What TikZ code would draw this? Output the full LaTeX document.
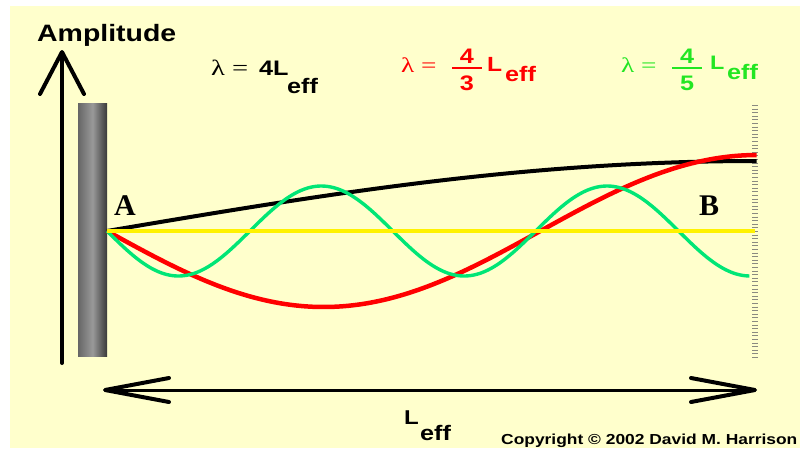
\documentclass[tikz,border=0pt]{standalone}
\usepackage{fontspec}
\setsansfont{Liberation Sans}[FakeStretch=1.2]
\newfontfamily\serifwide{Liberation Serif}[FakeStretch=1.3]
\newfontfamily\serifpoint{Liberation Serif}
\usetikzlibrary{arrows.meta}
\definecolor{paper}{HTML}{FFFFCC}
\definecolor{wavegreen}{HTML}{00E676}
\definecolor{textgreen}{HTML}{22E622}
\definecolor{tickgray}{HTML}{8A8A80}
\tikzset{
  sanslabel/.style={anchor=base west, inner sep=0pt,
    font=\sffamily\bfseries\fontsize{#1}{#1}\selectfont},
  lamlabel/.style={anchor=base west, inner sep=0pt,
    font=\serifwide\fontsize{#1}{#1}\selectfont},
  digit/.style={anchor=base, inner sep=0pt,
    font=\sffamily\bfseries\fontsize{21}{21}\selectfont},
  pointlabel/.style={anchor=base west, inner sep=0pt,
    font=\serifpoint\bfseries\fontsize{30}{30}\selectfont},
}
\begin{document}
\begin{tikzpicture}[x=1pt, y=-1pt,
    uparrow/.style={line width=4pt, line cap=round,
      -{Straight Barb[length=42pt, width=44pt, line width=4pt, round]}},
    spanarrow/.style={line width=3pt, line cap=round,
      {Straight Barb[length=64pt, width=24pt, line width=4pt, round]}-{Straight Barb[length=64pt, width=24pt, line width=4pt, round]}}]
  \useasboundingbox (0,0) rectangle (800,448);
  \fill[white] (0,0) rectangle (800,448);
  \fill[paper] (10,6) rectangle (800,448);

  % amplitude axis
  \coordinate (ampbot) at (62,363);
  \coordinate (amptop) at (62,50);
  \draw[uparrow] (ampbot) -- (amptop);
  \node[sanslabel=23.7] (amp) at (37,41) {Amplitude};

  % wall at the closed end
  \shade[left color=gray!80!black, right color=gray!45!black, middle color=gray!80]
    (78,103) rectangle (107,356);

  % ruler at the open end
  \draw[tickgray, line width=6pt, dash pattern=on 1pt off 2.6pt] (755,105) -- (755,360);

  % the three modes
  \coordinate (A) at (107,231);
  \coordinate (B) at (755,231);
  \draw[black, line width=4pt] plot[domain=0:1, samples=60, smooth]
    ({107+650*\x},{231-70*sin(90*\x)});
  \draw[red, line width=4.5pt] plot[domain=0:1, samples=80, smooth]
    ({107+650*\x},{231+76*sin(270*\x)});
  \draw[wavegreen, line width=3.4pt] plot[domain=0:1, samples=140, smooth]
    ({107+643*\x},{231+45*sin(810*\x)});
  \draw[yellow, line width=4pt] (A) -- (B);
  \node[pointlabel] (alabel) at (114,215) {A};
  \node[pointlabel] (blabel) at (699,215) {B};

  % wavelength labels
  \node[lamlabel=22] (lam1) at (211,75) {λ =};
  \node[sanslabel=21] (four1) at (259,75) {4L};
  \node[sanslabel=21] (eff1) at (287,93) {eff};

  \node[lamlabel=21, red] (lam2) at (401,72) {λ =};
  \node[digit, red] (num2) at (467,63) {4};
  \node[digit, red] (den2) at (467,90) {3};
  \draw[red, line width=2.5pt] (452,68) -- (482,68);
  \node[sanslabel=20.5, red] (ell2) at (487,71) {L};
  \node[sanslabel=21, red] (eff2) at (505,81) {eff};

  \node[lamlabel=21, textgreen] (lam3) at (621,72) {λ =};
  \node[digit, textgreen] (num3) at (687,63) {4};
  \node[digit, textgreen] (den3) at (687,90) {5};
  \draw[textgreen, line width=2.5pt] (672,68) -- (702,68);
  \node[sanslabel=19.5, textgreen] (ell3) at (710,69) {L};
  \node[sanslabel=21, textgreen] (eff3) at (727,79) {eff};

  % effective length
  \coordinate (lenleft) at (103,390);
  \coordinate (lenright) at (757,390);
  \draw[spanarrow] (lenleft) -- (lenright);
  \node[sanslabel=20] (ell4) at (404,424) {L};
  \node[sanslabel=21] (eff4) at (420,440) {eff};

  \node[sanslabel=14.5] (copy) at (501,444) {Copyright © 2002 David M. Harrison};
\end{tikzpicture}
\end{document}
